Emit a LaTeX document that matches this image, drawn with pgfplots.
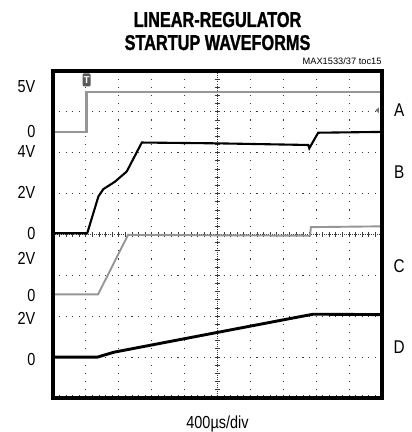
\documentclass[border=0pt]{standalone}
\usepackage{fontspec}
\setmainfont{Liberation Sans}
\newfontfamily\condfont[FakeStretch=0.83]{Liberation Sans}
\newfontfamily\titlefont[FakeStretch=0.76, UprightFont=* Bold, FakeBold=1.2]{Liberation Sans}
\usepackage{pgfplots}
\pgfplotsset{compat=1.18}
\definecolor{trgray}{HTML}{969696}
\definecolor{gridc}{HTML}{3A3A3A}
\begin{document}
\begin{tikzpicture}
\useasboundingbox (-53bp,-34bp) rectangle (359bp,398bp);
\begin{axis}[at={(0,0)}, anchor=south west, scale only axis,
  width=329bp, height=327bp,
  xmin=0, xmax=10, ymin=0, ymax=8, clip=false,
  xtick={1,...,9}, ytick={1,...,7},
  minor xtick={0,0.2,...,10}, minor ytick={0,0.2,...,8},
  xticklabels={}, yticklabels={},
  tick align=inside, major tick length=2.5bp, minor tick length=2.5bp,
  tick style={gridc, line width=0.8bp},
  grid=major,
  x grid style={gridc, line width=1.1bp, dash pattern=on 1.1bp off 7.075bp, dash phase=0.55bp},
  y grid style={gridc, line width=1.1bp, dash pattern=on 1.1bp off 5.48bp, dash phase=0.55bp},
]
% centre crosshair
\draw[gridc, line width=0.6bp, dash pattern=on 0.8bp off 1.25bp] (axis cs:5,0)--(axis cs:5,8);
\draw[gridc, line width=5bp, dash pattern=on 0.9bp off 7.275bp, dash phase=0.45bp] (axis cs:5,0)--(axis cs:5,8);
\draw[gridc, line width=0.6bp, dash pattern=on 0.8bp off 1.25bp] (axis cs:0,4)--(axis cs:10,4);
\draw[gridc, line width=5bp, dash pattern=on 0.9bp off 5.68bp, dash phase=0.45bp] (axis cs:0,4)--(axis cs:10,4);

% A
\addplot[trgray, line width=2.3bp] coordinates {(0,6.51) (1.02,6.51) (1.02,7.49) (10,7.49)};
% C
\addplot[trgray, line width=1.9bp] coordinates {(0,2.535) (1.37,2.535) (2.28,3.99) (5,3.98) (7.81,3.97) (7.84,4.18) (10,4.2)};
% B
\addplot[black, line width=2.1bp] coordinates {(0,4.03) (1.04,4.03) (1.38,4.93) (1.53,5.11) (1.88,5.29) (2.24,5.54) (2.70,6.25) (5,6.23) (7.76,6.19) (7.79,6.11) (8.06,6.49) (10,6.51)};
% D
\addplot[black, line width=2.9bp] coordinates {(0,1.0) (1.35,1.0) (1.6,1.06) (1.85,1.12) (5,1.605) (7.3,1.958) (7.91,2.05) (10,2.04)};

% frame
\draw[black, line width=4bp] (rel axis cs:0,0) rectangle (rel axis cs:1,1);

% trigger and ground markers
\node[fill=black!65, rounded corners=1.2bp, text=white, inner sep=0pt, font=\bfseries\fontsize{10}{10}\selectfont, minimum width=8bp, minimum height=13bp] at (axis cs:1.02,7.78) {T};
\fill[black!55] (axis cs:9.80,7.04) -- ++(3.5bp,2.8bp) -- ++(0,-5.6bp) -- cycle;

% left labels
\begin{scope}[every node/.style={anchor=base east, inner sep=0pt, font=\condfont\fontsize{17.5}{18}\selectfont}]
\node at (axis cs:-0.53,7.486) {5V};
\node at (axis cs:-0.53,6.361) {0};
\node at (axis cs:-0.53,5.872) {4V};
\node at (axis cs:-0.53,4.869) {2V};
\node at (axis cs:-0.53,3.87) {0};
\node at (axis cs:-0.53,3.254) {2V};
\node at (axis cs:-0.53,2.373) {0};
\node at (axis cs:-0.53,1.81) {2V};
\node at (axis cs:-0.53,0.783) {0};
\end{scope}
% right labels
\begin{scope}[every node/.style={anchor=base, inner sep=0pt, font=\condfont\fontsize{18.5}{18}\selectfont}]
\node at (axis cs:10.52,6.875) {A};
\node at (axis cs:10.52,5.358) {B};
\node at (axis cs:10.52,3.08) {C};
\node at (axis cs:10.52,1.10) {D};
\end{scope}
% titles
\node[anchor=base, inner sep=0pt, font=\titlefont\fontsize{21.5}{21}\selectfont] at (axis cs:5,9.077) {LINEAR-REGULATOR};
\node[anchor=base, inner sep=0pt, font=\titlefont\fontsize{21.5}{21}\selectfont] at (axis cs:5,8.514) {STARTUP WAVEFORMS};
\node[anchor=base east, inner sep=0pt, font=\fontsize{9.3}{10}\selectfont] at (axis cs:9.99,8.147) {MAX1533/37 toc15};
\node[anchor=base, inner sep=0pt, font=\condfont\fontsize{17.5}{17}\selectfont] at (axis cs:5,-0.758) {400µs/div};
\end{axis}
\end{tikzpicture}
\end{document}
